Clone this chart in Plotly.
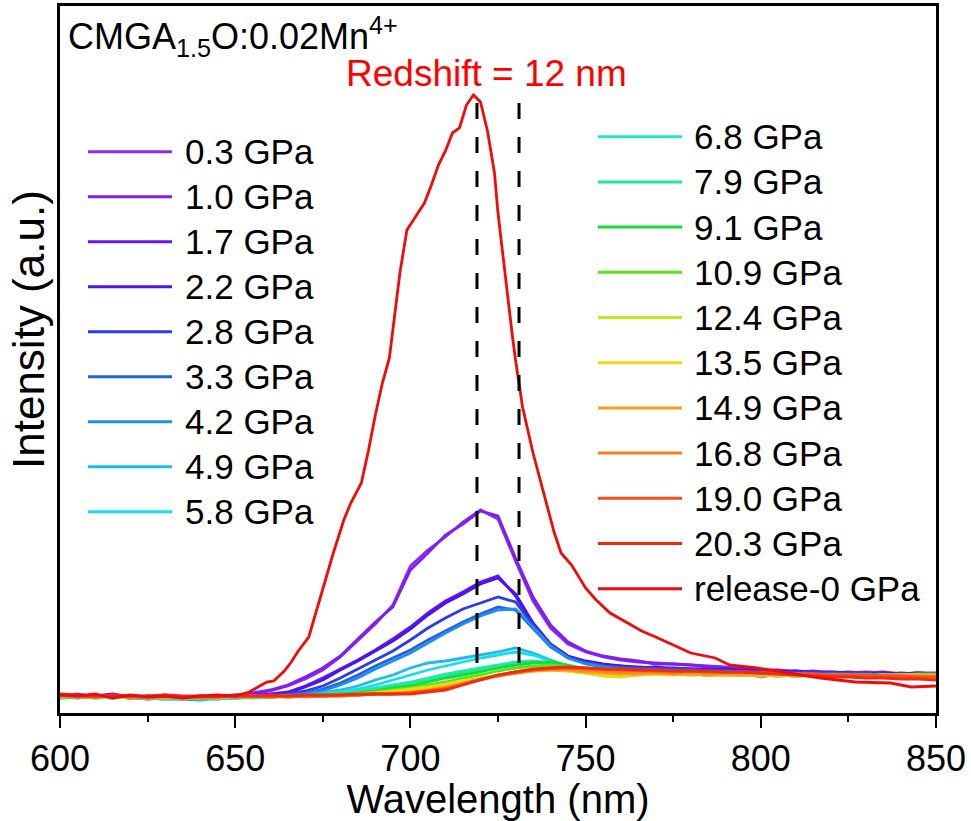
import plotly.graph_objects as go

# ---------------- data (intensity in a.u.) ----------------
WL = list(range(600, 851, 5))

LABELS = ["0.3 GPa", "1.0 GPa", "1.7 GPa", "2.2 GPa", "2.8 GPa", "3.3 GPa", "4.2 GPa",
          "4.9 GPa", "5.8 GPa", "6.8 GPa", "7.9 GPa", "9.1 GPa", "10.9 GPa", "12.4 GPa",
          "13.5 GPa", "14.9 GPa", "16.8 GPa", "19.0 GPa", "20.3 GPa", "release-0 GPa"]

COLORS = ["#8C2BEA", "#7E1EF0", "#6415F0", "#4A14EE", "#2A3CEB", "#2262E0", "#1C90E8",
          "#18BCEF", "#14DDF2", "#22E6C0", "#22E890", "#12E030", "#5EE01E", "#C6E81A",
          "#F2D60E", "#F5A01C", "#F57C1F", "#F5501A", "#F22A12", "#F00A0A"]

p03 = [17, 19, 16, 18, 15, 17, 16, 14, 17, 16, 18, 19, 22, 27, 34, 43, 56, 73, 89, 108,
       147, 163, 176, 191, 203, 194, 152, 112, 85, 69, 61, 56, 53, 51, 50, 49, 48, 47, 46, 44,
       43, 42, 42, 41, 41, 40, 41, 40, 39, 40, 40]
p10 = [16, 18, 17, 16, 17, 15, 17, 16, 15, 17, 17, 20, 23, 28, 36, 45, 57, 74, 91, 106,
       143, 160, 178, 189, 202, 197, 155, 116, 88, 71, 62, 57, 54, 52, 49, 49, 48, 46, 45, 45,
       43, 43, 41, 42, 40, 41, 40, 41, 39, 40, 39]
p17 = [18, 16, 17, 19, 16, 16, 18, 15, 16, 15, 17, 17, 19, 21, 27, 35, 44, 53, 63, 74,
       86, 100, 112, 121, 131, 137, 117, 88, 67, 56, 51, 48, 47, 46, 45, 45, 44, 44, 43, 43,
       42, 42, 41, 41, 40, 40, 40, 39, 40, 39, 39]
p22 = [17, 17, 18, 16, 17, 15, 16, 16, 14, 16, 16, 18, 18, 20, 26, 33, 43, 52, 62, 72,
       84, 98, 110, 119, 129, 135, 119, 90, 69, 57, 52, 49, 47, 45, 46, 44, 44, 43, 44, 42,
       42, 41, 42, 40, 41, 40, 39, 40, 39, 40, 38]
p28 = [16, 18, 16, 17, 15, 17, 15, 16, 15, 14, 17, 16, 18, 19, 22, 27, 35, 44, 53, 62,
       73, 85, 95, 104, 110, 116, 111, 88, 68, 56, 50, 47, 46, 45, 44, 44, 43, 43, 42, 42,
       41, 41, 40, 41, 39, 40, 39, 39, 38, 39, 38]
p33 = [17, 15, 17, 16, 16, 14, 16, 15, 14, 15, 16, 17, 17, 18, 20, 24, 30, 38, 47, 55,
       63, 73, 82, 91, 99, 106, 103, 85, 66, 55, 50, 47, 45, 44, 44, 43, 43, 42, 42, 41,
       41, 40, 40, 39, 40, 39, 39, 38, 39, 38, 38]
p42 = [15, 16, 16, 17, 15, 15, 14, 14, 13, 15, 15, 16, 17, 17, 19, 22, 28, 35, 44, 52,
       60, 70, 80, 89, 97, 103, 104, 86, 67, 55, 49, 46, 44, 43, 43, 42, 41, 41, 40, 40,
       36, 39, 39, 38, 38, 38, 37, 38, 37, 38, 37]
p49 = [16, 17, 15, 16, 16, 14, 15, 14, 14, 15, 15, 16, 17, 17, 18, 20, 23, 27, 33, 38,
       45, 50, 52, 55, 58, 61, 65, 60, 53, 47, 44, 42, 41, 40, 40, 39, 40, 39, 39, 38,
       38, 38, 37, 38, 37, 37, 38, 37, 37, 38, 37]
p58 = [15, 16, 16, 15, 16, 15, 14, 15, 14, 14, 16, 15, 16, 17, 17, 19, 21, 24, 28, 33,
       38, 43, 47, 51, 55, 58, 61, 58, 52, 47, 44, 42, 41, 40, 39, 40, 39, 39, 38, 38,
       38, 37, 38, 37, 37, 38, 37, 38, 37, 37, 38]
p68 = [16, 17, 15, 16, 16, 15, 15, 14, 15, 16, 15, 16, 16, 17, 17, 18, 20, 22, 25, 28,
       31, 35, 39, 42, 45, 48, 51, 52, 50, 46, 43, 41, 40, 40, 39, 39, 39, 38, 38, 38,
       37, 38, 37, 38, 37, 37, 37, 38, 37, 38, 38]
p79 = [17, 16, 16, 15, 17, 15, 16, 15, 16, 15, 16, 16, 17, 16, 17, 18, 19, 21, 23, 26,
       29, 33, 37, 40, 43, 46, 49, 51, 50, 46, 43, 41, 40, 40, 39, 39, 38, 39, 38, 38,
       38, 37, 38, 37, 38, 37, 38, 37, 38, 38, 38]
p91 = [16, 16, 17, 16, 16, 16, 15, 16, 15, 16, 16, 17, 16, 17, 17, 18, 19, 20, 22, 25,
       27, 31, 35, 38, 41, 45, 48, 50, 51, 48, 44, 42, 40, 40, 40, 39, 39, 38, 39, 38,
       38, 38, 37, 38, 38, 37, 38, 38, 38, 39, 39]
p109 = [17, 16, 16, 17, 15, 16, 16, 15, 16, 16, 17, 16, 17, 17, 17, 18, 18, 19, 21, 23,
        25, 28, 31, 35, 38, 42, 45, 47, 48, 46, 43, 41, 40, 40, 39, 40, 39, 38, 39, 38,
        38, 38, 38, 37, 38, 38, 37, 38, 38, 38, 38]
p124 = [16, 17, 16, 16, 16, 15, 16, 16, 15, 16, 16, 17, 16, 17, 17, 17, 18, 19, 20, 22,
        24, 26, 29, 32, 35, 38, 41, 43, 44, 42, 40, 37, 36, 38, 39, 39, 38, 39, 38, 38,
        38, 37, 38, 38, 37, 38, 38, 37, 38, 38, 37]
p135 = [17, 16, 17, 16, 16, 16, 15, 16, 16, 15, 17, 16, 17, 16, 17, 17, 18, 18, 20, 21,
        23, 25, 28, 31, 34, 37, 40, 42, 43, 42, 40, 38, 37, 38, 39, 38, 39, 38, 38, 38,
        37, 38, 37, 38, 38, 37, 37, 38, 37, 38, 38]
p149 = [16, 17, 16, 17, 16, 16, 16, 15, 16, 16, 16, 17, 16, 17, 16, 17, 17, 18, 19, 20,
        21, 23, 26, 30, 34, 37, 40, 42, 43, 43, 41, 40, 39, 39, 40, 39, 39, 38, 39, 38,
        38, 38, 38, 37, 38, 38, 37, 38, 38, 38, 38]
p168 = [17, 16, 17, 16, 17, 15, 16, 16, 15, 16, 17, 16, 17, 16, 17, 17, 17, 18, 19, 19,
        20, 22, 25, 29, 33, 37, 40, 43, 44, 44, 43, 42, 41, 41, 41, 40, 41, 40, 40, 40,
        40, 39, 39, 39, 38, 38, 37, 37, 36, 36, 36]
p190 = [18, 17, 16, 17, 16, 16, 17, 16, 16, 17, 16, 17, 16, 17, 17, 17, 18, 18, 19, 19,
        20, 22, 24, 29, 34, 38, 41, 43, 45, 45, 45, 44, 43, 43, 42, 42, 42, 41, 41, 41,
        40, 40, 39, 39, 38, 38, 38, 37, 37, 36, 36]
p203 = [19, 18, 17, 18, 17, 17, 18, 17, 17, 16, 18, 17, 18, 17, 18, 18, 18, 19, 19, 19,
        19, 21, 23, 28, 33, 38, 41, 44, 45, 46, 45, 44, 44, 43, 43, 42, 42, 42, 41, 41,
        40, 39, 38, 37, 36, 36, 35, 35, 34, 34, 33]

WL_REL = [600, 605, 610, 615, 620, 625, 630, 635, 640, 645, 650, 654, 657, 659, 661, 664,
          666, 668, 671, 674, 676, 678, 681, 683, 686, 688, 690, 692, 694, 697, 699, 702,
          704, 706, 708, 710, 712, 714, 716, 718, 720, 722, 724, 725, 727, 729, 730, 732,
          735, 738, 741, 743, 746, 750, 753, 757, 762, 766, 770, 775, 780, 787, 791, 799,
          808, 817, 827, 837, 843, 850]
I_REL = [18, 17, 19, 15, 18, 16, 17, 15, 17, 18, 17, 21, 27, 31, 32, 42,
         51, 62, 76, 113, 138, 160, 193, 210, 230, 262, 298, 330, 355, 440, 483, 500,
         510, 528, 548, 562, 580, 585, 608, 618, 611, 582, 540, 500, 438, 380, 353, 306,
         260, 220, 181, 160, 148, 125, 113, 100, 90, 82, 76, 68, 60, 55, 48, 45,
         40, 35, 31, 30, 26, 27]

SERIES = [p03, p10, p17, p22, p28, p33, p42, p49, p58, p68, p79, p91, p109, p124,
          p135, p149, p168, p190, p203]

SHIFT_LINES = [719, 731]      # peak positions (nm)
SHIFT_SPAN = [50, 628]        # vertical extent of dashed markers (a.u.)
Y_RANGE = [0, 707]
X_RANGE = [600, 850]

FONT = "Arial, Liberation Sans, sans-serif"

fig = go.Figure()
for lab, col, ys in zip(LABELS[:-1], COLORS[:-1], SERIES):
    fig.add_trace(go.Scatter(x=WL, y=ys, mode="lines", name=lab,
                             line=dict(color=col, width=2.8), showlegend=False))
fig.add_trace(go.Scatter(x=WL_REL, y=I_REL, mode="lines", name=LABELS[-1],
                         line=dict(color=COLORS[-1], width=2.8), showlegend=False))

for xv in SHIFT_LINES:
    fig.add_shape(type="line", xref="x", yref="y", x0=xv, x1=xv,
                  y0=SHIFT_SPAN[0], y1=SHIFT_SPAN[1],
                  line=dict(color="black", width=3, dash="16px,18px"))

# ---------------- layout geometry (pixels) ----------------
W, H = 971, 821
PL, PR, PT, PB = 60, 936, 6, 713


def px(xp):
    return (xp - PL) / (PR - PL)


def py(yp):
    return (PB - yp) / (PB - PT)


# manual legend (two columns)
leg_cols = [
    dict(items=range(0, 9), x0=88, x1=172, xt=183, y0=151.7, dy=45.0),
    dict(items=range(9, 20), x0=598, x1=682, xt=692, y0=136.7, dy=45.2),
]
for c in leg_cols:
    for k, idx in enumerate(c["items"]):
        yy = c["y0"] + k * c["dy"]
        fig.add_shape(type="line", xref="paper", yref="paper",
                      x0=px(c["x0"]), x1=px(c["x1"]), y0=py(yy), y1=py(yy),
                      line=dict(color=COLORS[idx], width=3))
        fig.add_annotation(xref="paper", yref="paper", x=px(c["xt"]), y=py(yy),
                           text=LABELS[idx], showarrow=False, xanchor="left",
                           yanchor="middle", font=dict(family=FONT, size=35, color="black"))

fig.add_annotation(xref="paper", yref="paper", x=px(66), y=py(36),
                   text="CMGA<sub>1.5</sub>O:0.02Mn<sup>4+</sup>", showarrow=False,
                   xanchor="left", yanchor="middle",
                   font=dict(family=FONT, size=36, color="black"))
fig.add_annotation(xref="paper", yref="paper", x=px(486), y=py(73),
                   text="Redshift = 12 nm", showarrow=False,
                   xanchor="center", yanchor="middle",
                   font=dict(family=FONT, size=37, color="#FF0000"))
# y-axis title
fig.add_annotation(xref="paper", yref="paper", x=px(29), y=py(330),
                   text="Intensity (a.u.)", showarrow=False, textangle=-90,
                   xanchor="center", yanchor="middle",
                   font=dict(family=FONT, size=44, color="black"))

fig.update_layout(
    width=W, height=H,
    margin=dict(l=PL, r=W - PR, t=PT, b=H - PB, pad=0),
    paper_bgcolor="white", plot_bgcolor="white",
    font=dict(family=FONT, color="black"),
    showlegend=False,
)
fig.update_xaxes(range=X_RANGE, tick0=600, dtick=50, ticks="outside", ticklen=12,
                 tickwidth=2, tickcolor="black",
                 minor=dict(dtick=25, ticks="outside", ticklen=6, tickwidth=2,
                            tickcolor="black"),
                 showline=True, linewidth=2.5, linecolor="black", mirror=True,
                 showgrid=False, zeroline=False, automargin=False,
                 tickfont=dict(family=FONT, size=36, color="black"),
                 title=dict(text="Wavelength (nm)", font=dict(family=FONT, size=40),
                            standoff=4))
fig.update_yaxes(range=Y_RANGE, showticklabels=False, ticks="",
                 showline=True, linewidth=2.5, linecolor="black", mirror=True,
                 showgrid=False, zeroline=False, automargin=False)

fig.write_html("out.html")
